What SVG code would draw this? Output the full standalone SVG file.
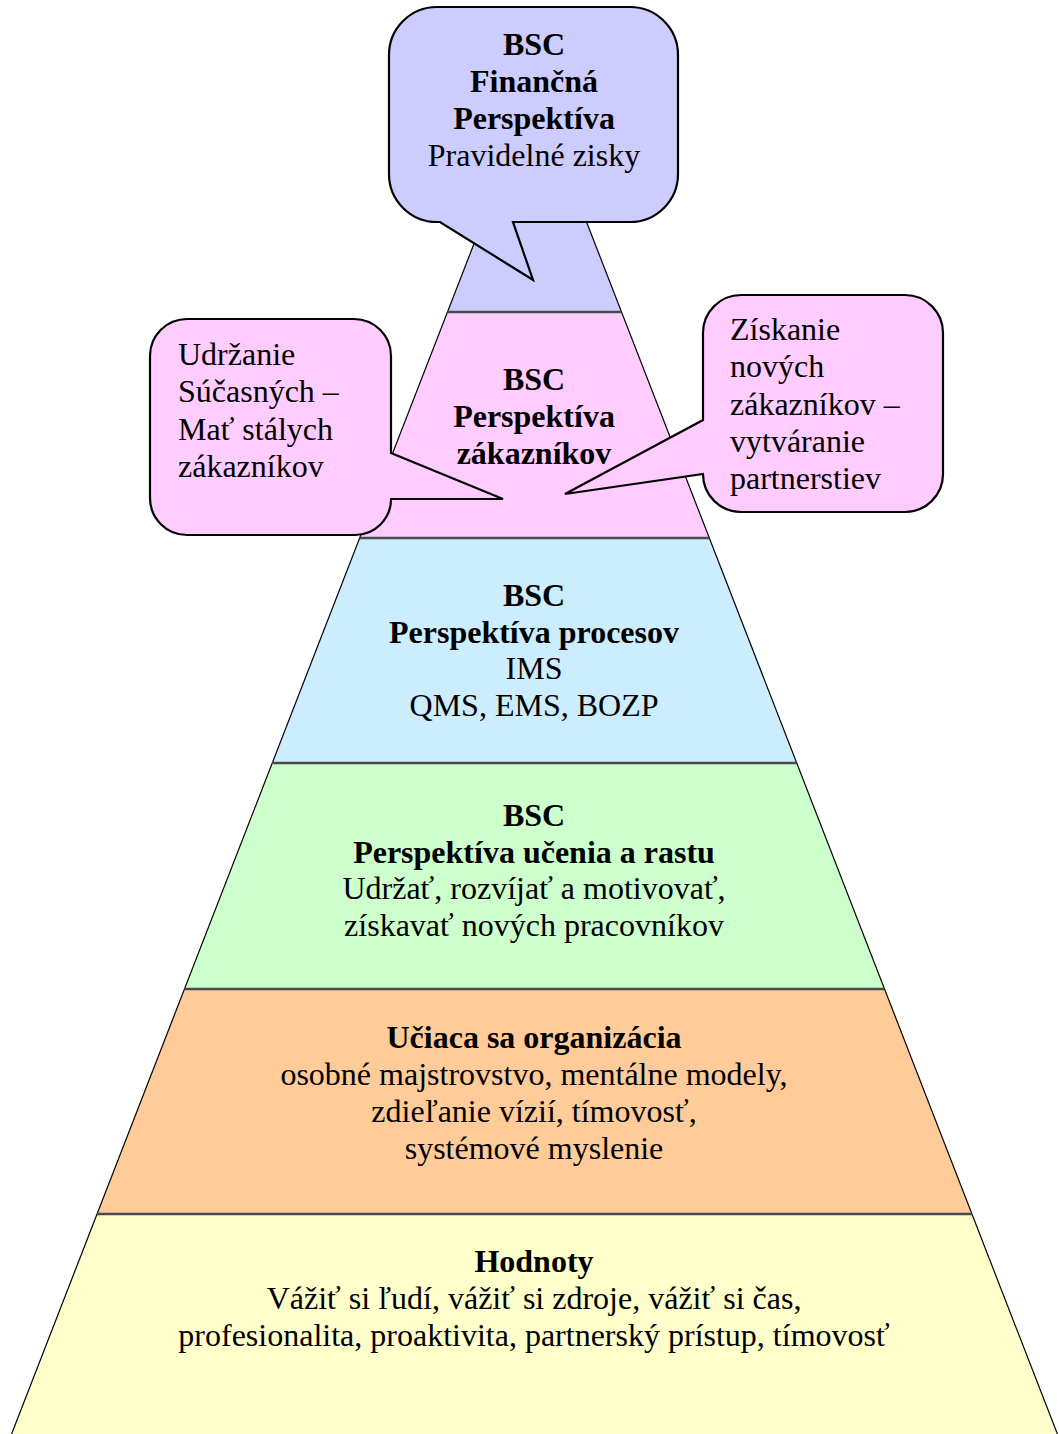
<svg xmlns="http://www.w3.org/2000/svg" width="1059" height="1434" viewBox="0 0 1059 1434">
  <style>
    text { font-family: "Liberation Serif", "Times New Roman", serif; font-size: 32px; fill: #000; }
    .c { text-anchor: middle; }
    .b { font-weight: bold; }
    .edge { stroke: #000; stroke-width: 1.2; fill: none; }
    .div { stroke: #4a4a4a; stroke-width: 2.5; fill: none; }
    .callout { stroke: #000; stroke-width: 2.2; stroke-linejoin: miter; }
  </style>
  <rect width="1059" height="1434" fill="#ffffff"/>

  <!-- Pyramid layers, bottom to top -->
  <g id="layer-hodnoty">
    <polygon points="97,1214 972,1214 1057.4,1434 11.6,1434" fill="#FFFFCC"/>
    <text class="c b" x="534" y="1272">Hodnoty</text>
    <text class="c" x="534" y="1309">Vážiť si ľudí, vážiť si zdroje, vážiť si čas,</text>
    <text class="c" x="534" y="1346">profesionalita, proaktivita, partnerský prístup, tímovosť</text>
  </g>
  <g id="layer-organizacia">
    <polygon points="184.5,989 884.5,989 972,1214 97,1214" fill="#FFCC99"/>
    <text class="c b" x="534" y="1048">Učiaca sa organizácia</text>
    <text class="c" x="534" y="1085">osobné majstrovstvo, mentálne modely,</text>
    <text class="c" x="534" y="1122">zdieľanie vízií, tímovosť,</text>
    <text class="c" x="534" y="1159">systémové myslenie</text>
  </g>
  <g id="layer-ucenie">
    <polygon points="272.3,763 796.7,763 884.5,989 184.5,989" fill="#CCFFCC"/>
    <text class="c b" x="534" y="826">BSC</text>
    <text class="c b" x="534" y="863">Perspektíva učenia a rastu</text>
    <text class="c" x="534" y="899">Udržať, rozvíjať a motivovať,</text>
    <text class="c" x="534" y="936">získavať nových pracovníkov</text>
  </g>
  <g id="layer-procesy">
    <polygon points="359.7,538 709.3,538 796.7,763 272.3,763" fill="#CCECFF"/>
    <text class="c b" x="534" y="606">BSC</text>
    <text class="c b" x="534" y="643">Perspektíva procesov</text>
    <text class="c" x="534" y="679">IMS</text>
    <text class="c" x="534" y="716">QMS, EMS, BOZP</text>
  </g>
  <g id="layer-zakaznici">
    <polygon points="447.5,312 621.5,312 709.3,538 359.7,538" fill="#FFCCFF"/>
    <text class="c b" x="534" y="390">BSC</text>
    <text class="c b" x="534" y="427">Perspektíva</text>
    <text class="c b" x="534" y="464">zákazníkov</text>
  </g>
  <g id="layer-financie">
    <polygon points="534.5,88 621.5,312 447.5,312" fill="#CCCCFF"/>
  </g>

  <!-- Outline of the pyramid and the dividing lines between layers -->
  <g id="connectors">
    <line class="edge" x1="534.5" y1="88" x2="11.6" y2="1434"/>
    <line class="edge" x1="534.5" y1="88" x2="1057.4" y2="1434"/>
    <line class="div" x1="447.5" y1="312" x2="621.5" y2="312"/>
    <line class="div" x1="359.7" y1="538" x2="709.3" y2="538"/>
    <line class="div" x1="272.3" y1="763" x2="796.7" y2="763"/>
    <line class="div" x1="184.5" y1="989" x2="884.5" y2="989"/>
    <line class="div" x1="97" y1="1214" x2="972" y2="1214"/>
  </g>

  <!-- Speech-bubble callouts -->
  <g id="callout-financna">
    <path class="callout" fill="#CCCCFF" d="M 437,7 H 630 A 48 48 0 0 1 678 55 V 174 A 48 48 0 0 1 630 222 H 513 L 533 280 L 440 222 H 437 A 48 48 0 0 1 389 174 V 55 A 48 48 0 0 1 437 7 Z"/>
    <text class="c b" x="534" y="55">BSC</text>
    <text class="c b" x="534" y="92">Finančná</text>
    <text class="c b" x="534" y="129">Perspektíva</text>
    <text class="c" x="534" y="166">Pravidelné zisky</text>
  </g>
  <g id="callout-udrzanie">
    <path class="callout" fill="#FFCCFF" d="M 187,319 H 354 A 37 37 0 0 1 391 356 V 453 L 503 499 L 391 499 A 36 36 0 0 1 355 535 H 187 A 37 37 0 0 1 150 498 V 356 A 37 37 0 0 1 187 319 Z"/>
    <text x="178" y="365">Udržanie</text>
    <text x="178" y="402">Súčasných –</text>
    <text x="178" y="440">Mať stálych</text>
    <text x="178" y="477">zákazníkov</text>
  </g>
  <g id="callout-ziskanie">
    <path class="callout" fill="#FFCCFF" d="M 741,295 H 905 A 38 38 0 0 1 943 333 V 474 A 38 38 0 0 1 905 512 H 741 A 38 38 0 0 1 703 474 L 565 494 L 703 420 V 333 A 38 38 0 0 1 741 295 Z"/>
    <text x="730" y="340">Získanie</text>
    <text x="730" y="377">nových</text>
    <text x="730" y="415">zákazníkov –</text>
    <text x="730" y="452">vytváranie</text>
    <text x="730" y="489">partnerstiev</text>
  </g>
</svg>
